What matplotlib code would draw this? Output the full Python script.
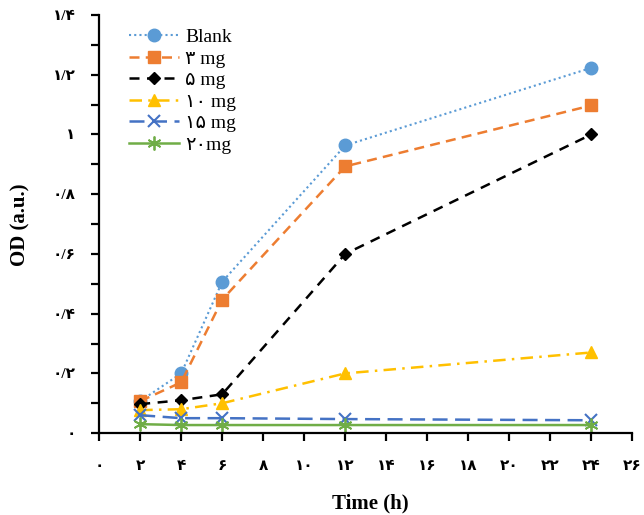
import matplotlib
matplotlib.use("Agg")
import matplotlib.pyplot as plt

# data
time_h = [2, 4, 6, 12, 24]
blank = [0.107, 0.20, 0.507, 0.963, 1.223]
mg3 = [0.107, 0.17, 0.447, 0.893, 1.097]
mg5 = [0.097, 0.11, 0.13, 0.60, 1.0]
mg10 = [0.077, 0.08, 0.10, 0.20, 0.27]
mg15 = [0.06, 0.05, 0.05, 0.047, 0.043]
mg20 = [0.03, 0.027, 0.027, 0.027, 0.027]

labels = ["Blank", "\u06f3 mg", "\u06f5 mg", "\u06f1\u06f0 mg", "\u06f1\u06f5 mg", "\u06f2\u06f0mg"]

fa = str.maketrans("0123456789.", "\u06f0\u06f1\u06f2\u06f3\u06f4\u06f5\u06f6\u06f7\u06f8\u06f9/")
x_ticks = list(range(0, 27, 2))
y_ticks = [0, 0.2, 0.4, 0.6, 0.8, 1.0, 1.2, 1.4]
y_ticklabels = ["0", "0.2", "0.4", "0.6", "0.8", "1", "1.2", "1.4"]

fonts = ["Liberation Serif", "DejaVu Sans"]
plt.rcParams['font.family'] = fonts

fig = plt.figure(figsize=(6.44, 5.15), dpi=100)
ax = fig.add_axes([0.154, 0.159, 0.828, 0.812])

ax.plot(time_h, blank, linestyle=(0, (1, 1.5)), color="#5B9BD5", lw=1.5,
        marker="o", ms=9, label=labels[0])
ax.plot(time_h, mg3, linestyle=(0, (4, 2.5)), color="#ED7D31", lw=1.8,
        marker="s", ms=8.5, label=labels[1])
ax.plot(time_h, mg5, linestyle=(0, (4, 3)), color="black", lw=1.8,
        marker="D", ms=6.5, label=labels[2])
ax.plot(time_h, mg10, linestyle=(0, (5, 2.5, 1, 2.5)), color="#FFC000", lw=1.8,
        marker="^", ms=9, label=labels[3])
ax.plot(time_h, mg15, linestyle=(0, (6, 3)), color="#4472C4", lw=1.8,
        marker="x", ms=9, mew=1.5, label=labels[4])
ax.plot(time_h, mg20, linestyle="-", color="#70AD47", lw=1.8,
        marker=(6, 2, 0), ms=10, mew=1.3, label=labels[5])

ax.set_xlim(0, 26)
ax.set_ylim(0, 1.4)
ax.set_xticks(x_ticks)
ax.set_xticklabels([str(t).translate(fa) for t in x_ticks], fontweight="bold")
ax.set_yticks(y_ticks)
ax.set_yticklabels([s.translate(fa) for s in y_ticklabels], fontweight="bold")
ax.set_yticks([0.1, 0.3, 0.5, 0.7, 0.9, 1.1, 1.3], minor=True)

for s in ["top", "right"]:
    ax.spines[s].set_visible(False)
for s in ["left", "bottom"]:
    ax.spines[s].set_linewidth(1.6)

ax.tick_params(axis="x", direction="out", length=6, width=1.6, pad=13, labelsize=11)
ax.tick_params(axis="y", direction="out", length=6, width=1.6, pad=11, labelsize=11)
ax.tick_params(axis="y", which="minor", direction="out", length=6, width=1.6)

fig.text(370 / 644, 1 - 503 / 515, "Time (h)", fontsize=15, fontweight="bold",
         ha="center", va="center")
fig.text(20 / 644, 1 - 225 / 515, "OD (a.u.)", fontsize=15, fontweight="bold",
         ha="center", va="center", rotation=90)

ax.legend(loc="upper left", bbox_to_anchor=(0.03, 1.0), frameon=False,
          fontsize=14, handlelength=2.6, handletextpad=0.3,
          labelspacing=0.2, borderaxespad=0.3)

fig.savefig("out.png", dpi=100)
